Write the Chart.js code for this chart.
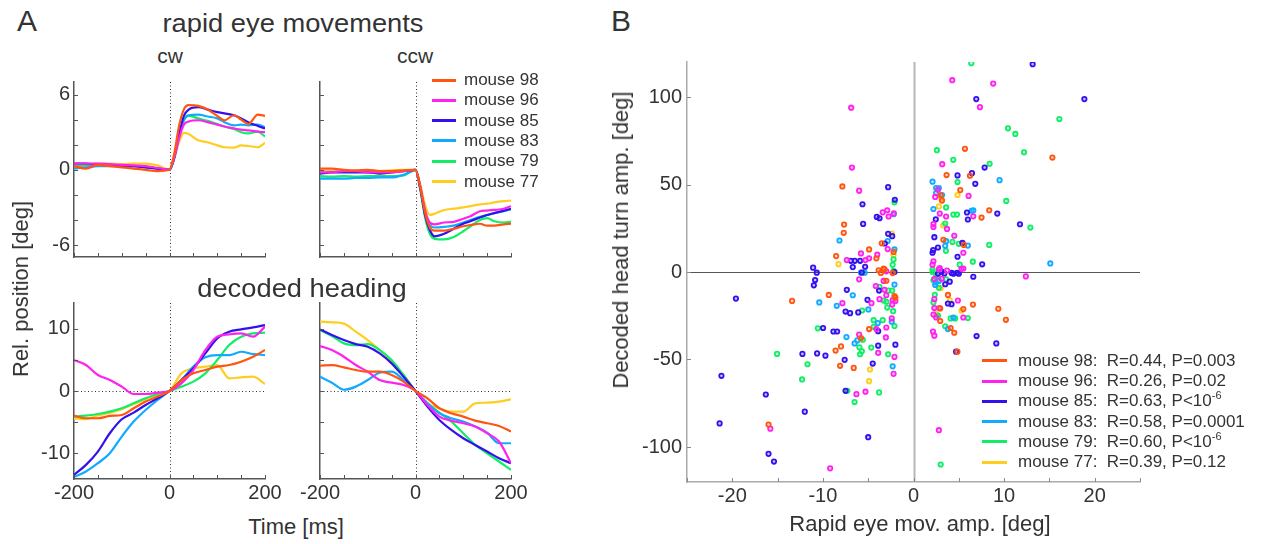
<!DOCTYPE html>
<html>
<head>
<meta charset="utf-8">
<title>rapid eye movements / decoded heading</title>
<script src="https://cdn.jsdelivr.net/npm/chart.js@4.4.1/dist/chart.umd.min.js"></script>
<style>
  html, body { margin: 0; padding: 0; background: #fff; }
  body { position: relative; width: 1271px; height: 544px; overflow: hidden;
         font-family: "Liberation Sans", Arial, sans-serif; color: #333; }
  canvas { position: absolute; }
  .txt { position: absolute; white-space: pre; line-height: 1; }
  .ctr { transform: translateX(-50%); }
  .rot { transform: translate(-50%, -50%) rotate(-90deg); }
  .key { position: absolute; height: 3px; }
  sup { font-size: 11px; vertical-align: 7px; line-height: 0; }
</style>
</head>
<body>
<canvas id="cw"></canvas>
<canvas id="ccw"></canvas>
<canvas id="hcw"></canvas>
<canvas id="hccw"></canvas>
<canvas id="scat"></canvas>

<div class="txt" style="left:17px;top:6px;font-size:30px">A</div>
<div class="txt" style="left:611px;top:6px;font-size:30px">B</div>
<div class="txt" style="left:293px;top:9.5px;font-size:26px;transform:translateX(-50%) scaleX(1.05)">rapid eye movements</div>
<div class="txt ctr" style="left:170px;top:44.5px;font-size:21px">cw</div>
<div class="txt ctr" style="left:415px;top:44.5px;font-size:21px">ccw</div>
<div class="txt" style="left:302px;top:274.5px;font-size:26px;transform:translateX(-50%) scaleX(1.05)">decoded heading</div>
<div class="txt rot" style="left:21px;top:289px;font-size:22px">Rel. position [deg]</div>
<div class="txt ctr" style="left:296px;top:515.5px;font-size:22px">Time [ms]</div>
<div class="txt rot" style="left:621px;top:240px;font-size:22px">Decoded head turn amp. [deg]</div>
<div class="txt ctr" style="left:920px;top:512.5px;font-size:22px">Rapid eye mov. amp. [deg]</div>
<div id="legA"></div>
<div id="legB"></div>

<script>
// ---- data ----
const mice = ['mouse 98', 'mouse 96', 'mouse 85', 'mouse 83', 'mouse 79', 'mouse 77'];
const colors = ['#ff5511', '#ff22ee', '#3311ee', '#11aaff', '#11ee66', '#ffcc22'];

// rapid eye movements (deg), time in ms
const timeTop = [-200,-175,-150,-125,-100,-75,-50,-25,0,10,20,30,40,60,80,100,115,135,150,165,185,200];
const cw98 = [0.3,0.1,0.4,0.3,0.2,0.1,0.0,-0.1,0,1.3,3.5,4.8,5.15,5.1,4.8,4.3,3.95,4.35,4.0,3.65,4.4,4.3];
const cw96 = [0.5,0.5,0.5,0.45,0.4,0.35,0.3,0.15,0,1.0,2.5,3.6,3.85,3.95,3.8,3.6,3.45,3.3,3.2,3.15,3.05,3.0];
const cw85 = [0.5,0.5,0.4,0.4,0.3,0.3,0.2,0.1,0,1.0,2.8,4.3,4.8,5.0,4.8,4.6,4.5,4.35,4.1,3.8,3.5,3.3];
const cw83 = [0.1,0.2,0.3,0.3,0.3,0.3,0.2,0.1,0,1.0,2.8,4.0,4.35,4.4,4.25,4.1,3.8,3.55,3.6,3.55,3.6,3.4];
const cw79 = [0.3,0.35,0.35,0.35,0.3,0.3,0.25,0.1,0,0.9,2.6,3.9,4.3,4.1,3.9,3.65,3.45,3.25,3.0,2.9,3.05,2.65];
const cw77 = [0.5,0.45,0.5,0.5,0.45,0.5,0.5,0.35,0,0.9,2.2,2.95,2.85,2.35,2.2,1.95,1.8,1.77,1.95,1.9,1.8,2.15];

const ccw98 = [0.1,0.1,0.0,-0.05,0.0,-0.1,-0.1,-0.05,0,-1.4,-3.4,-4.6,-4.85,-4.85,-4.7,-4.5,-4.4,-4.3,-4.45,-4.45,-4.35,-4.3];
const ccw96 = [-0.2,-0.2,-0.1,-0.1,-0.2,-0.2,-0.2,-0.1,0,-1.3,-3.2,-4.2,-4.35,-4.2,-4.15,-3.9,-3.7,-3.3,-3.25,-3.2,-3.1,-2.9];
const ccw85 = [-0.3,-0.2,-0.2,-0.2,-0.2,-0.3,-0.2,-0.1,0,-1.5,-3.6,-4.8,-5.3,-5.1,-4.7,-4.3,-4.1,-3.8,-3.6,-3.45,-3.25,-3.1];
const ccw83 = [-0.7,-0.7,-0.7,-0.65,-0.65,-0.6,-0.6,-0.4,0,-1.4,-3.4,-4.4,-4.6,-4.55,-4.45,-4.2,-4.0,-3.75,-3.6,-3.45,-3.3,-3.15];
const ccw79 = [-0.5,-0.55,-0.5,-0.55,-0.5,-0.5,-0.5,-0.45,0,-1.6,-3.8,-5.1,-5.5,-5.55,-5.35,-4.9,-4.5,-4.0,-3.85,-4.1,-4.2,-4.15];
const ccw77 = [-0.1,-0.1,-0.1,-0.1,-0.1,-0.1,-0.05,0.0,0,-1.2,-2.8,-3.6,-3.5,-3.2,-3.1,-3.0,-2.9,-2.75,-2.7,-2.6,-2.5,-2.45];

// decoded heading (deg)
const timeBottom = [-200,-175,-150,-125,-100,-75,-50,-25,0,25,50,75,100,125,150,175,200];
const hcw98 = [-3.95,-4.37,-4.37,-4.0,-3.84,-2.77,-1.7,-0.9,0,1.76,2.83,3.36,3.9,4.16,4.69,5.49,6.56];
const hcw96 = [4.96,4.16,2.56,1.76,0.7,-0.48,-0.48,-0.27,0,1.23,3.36,6.56,8.7,9.07,9.23,8.7,10.3];
const hcw85 = [-13.44,-11.84,-9.7,-6.77,-4.53,-3.47,-2.24,-1.17,0,1.76,3.63,6.03,8.43,9.49,9.87,10.19,10.56];
const hcw83 = [-13.8,-12.9,-11.57,-9.97,-7.3,-4.9,-3.04,-1.44,0,1.76,3.9,5.39,5.76,5.76,6.29,5.92,5.76];
const hcw79 = [-4.1,-3.95,-3.68,-3.3,-2.77,-1.97,-1.17,-0.48,0,0.7,1.5,2.83,4.96,7.36,8.7,9.23,9.33];
const hcw77 = [-4.37,-4.53,-3.9,-3.5,-2.9,-2.1,-1.3,-0.6,0,2.83,3.63,3.9,4.16,2.03,2.19,2.29,1.12];

const hccw98 = [4.05,4.16,3.79,3.36,3.09,3.09,2.56,1.5,0,-1.17,-2.77,-3.57,-4.1,-4.75,-5.17,-5.6,-6.5];
const hccw96 = [7.2,6.56,5.49,4.16,3.09,1.76,1.33,0.96,0,-2.24,-4.1,-4.75,-5.17,-5.7,-6.77,-8.1,-11.57];
const hccw85 = [9.87,8.96,8.16,7.52,7.09,6.03,4.43,2.29,0,-2.5,-4.64,-6.24,-7.57,-8.64,-9.7,-10.77,-11.57];
const hccw83 = [2.29,1.33,0.2,0.7,1.76,2.93,3.09,1.76,0,-1.97,-3.57,-4.37,-4.9,-5.7,-6.67,-8.37,-8.37];
const hccw79 = [9.76,8.8,7.63,7.36,7.52,6.56,4.96,2.56,0,-1.97,-3.47,-4.9,-6.77,-8.64,-9.97,-11.3,-12.64];
const hccw77 = [11.1,11.0,10.8,9.5,8.16,6.56,4.7,2.56,0,-1.97,-2.77,-3.3,-3.3,-1.97,-1.87,-1.7,-1.33];

// panel B: [eye movement amp, decoded head turn amp]
const pts98 = [[-7.85,48.9],[-7.66,27.1],[-7.7,22.4],[-3.5,16.4],[-4.9,12.9],[-8.54,9.1],[-4.1,7.8],[-3.85,1.0],[-3.3,1.9],[-3.6,-0.5],[-2.3,-0.6],[-2.2,11.5],
  [5.68,70.4],[15.33,65.4],[3.65,55.4],[6.23,55.0],[5.16,46.8],[3.0,43.8],[3.15,40.8],[8.36,35.3],[7.51,31.1],[3.3,18.4],[5.56,15.5],
  [-13.4,-16.5],[-9.35,-13.1],[-3.2,1.5],[-3.0,-5.0],[-2.1,-13.7],[-2.0,-14.6],[-4.9,-32.6],[-5.8,-37.7],[-8.0,-42.5],[-8.6,-44.9],[-8.1,-53.6],[-6.6,-54.8],[-16.0,-87.2],
  [3.8,-13.1],[6.56,-18.6],[2.95,-20.8],[5.5,-21.2],[9.36,-21.0],[10.2,-27.3],[2.95,-28.0],[4.1,-32.0],[4.5,-34.7],[4.85,-45.5]];
const pts96 = [[-6.88,93.9],[-6.8,59.7],[-6.0,46.5],[-3.4,34.1],[-2.9,35.3],[-2.75,31.7],[-2.17,33.5],[-2.85,13.1],[-7.36,6.8],[-5.8,10.6],[-5.3,6.8],[-4.9,7.8],[-4.0,9.9],[-3.0,0.4],
  [4.28,109.6],[8.8,107.7],[7.33,94.2],[3.17,61.6],[2.7,47.0],[6.08,43.5],[2.4,42.9],[2.9,33.4],[3.6,31.7],[6.6,31.8],[2.2,27.4],[2.2,25.7],[3.7,24.6],[4.5,20.7],[5.5,11.0],[2.2,6.1],[2.1,4.2],[2.9,2.2],[3.7,0.8],[5.3,1.8],[12.4,-2.5],
  [-6.0,-4.2],[-3.3,-5.1],[-7.85,-17.8],[-4.64,-17.8],[-4.16,-8.0],[-3.2,-10.2],[-3.0,-13.3],[-3.75,-15.5],[-2.3,-16.1],[-2.0,-16.5],[-2.35,-18.6],[-2.4,-26.5],[-4.1,-32.6],[-3.0,-31.7],[-6.0,-35.8],[-3.05,-37.4],[-3.9,-46.2],[-2.1,-48.5],[-2.2,-58.2],[-6.3,-69.8],[-5.3,-68.4],[-15.8,-89.5],[-9.2,-112.2],
  [2.3,-3.9],[2.8,1.5],[3.1,-3.9],[5.5,2.0],[2.3,-15.5],[4.9,-16.3],[2.3,-20.6],[2.85,-20.6],[2.2,-24.3],[2.5,-26.0],[5.5,-26.0],[2.15,-34.0],[2.3,-36.4],[2.8,-90.4]];
const pts85 = [[-2.8,48.5],[-5.63,38.7],[-2.06,41.3],[-4.05,31.5],[-3.75,30.7],[-5.56,27.5],[-2.8,21.8],[-2.35,20.5],[-3.16,16.3],[-6.92,6.4],[-6.48,6.4],[-5.89,6.4],[-6.7,2.8],[-5.34,3.0],[-11.08,2.5],[-10.68,-0.4],[-5.7,-0.3],[-2.1,0],
  [6.93,98.8],[13.15,118.7],[18.86,98.8],[7.85,59.7],[4.86,55.2],[6.45,56.5],[6.82,50.4],[5.9,34.0],[6.0,30.0],[9.25,33.4],[11.75,27.3],[2.46,30.1],[2.3,19.9],[5.4,16.6],[2.7,14.0],[2.17,12.5],[2.1,11.0],[4.86,8.7],[7.58,4.4],[3.1,0.2],[4.2,-0.5],[4.8,-0.5],
  [-10.86,-4.6],[-11.0,-7.6],[-19.6,-15.2],[-7.36,-10.2],[-5.08,-15.9],[-7.5,-22.6],[-7.0,-23.5],[-6.1,-23.1],[-3.8,-10.6],[-3.9,-33.8],[-9.98,-32.0],[-8.84,-34.0],[-8.43,-34.0],[-2.0,-41.5],[-3.9,-42.1],[-4.5,-52.3],[-7.6,-50.2],[-12.26,-46.8],[-10.64,-46.5],[-9.72,-47.8],[-21.2,-59.3],[-16.3,-70.0],[-7.5,-67.9],[-12.0,-79.8],[-21.4,-86.5],[-5.0,-94.4],[-16.0,-103.9],[-15.4,-108.3],
  [2.7,-1.0],[3.4,-0.8],[4.4,-1.0],[5.0,-1.0],[6.6,-2.7],[3.5,-7.0],[4.0,-5.5],[3.8,-18.0],[4.2,-18.4],[6.96,-36.6],[9.14,-40.8],[4.7,-45.5]];
const pts83 = [[-8.17,18.0],[-2.85,17.7],[-2.1,12.9],[-2.2,33.0],[-5.4,-0.4],
  [2.1,51.6],[9.5,52.5],[2.5,48.0],[2.8,48.0],[2.5,45.1],[3.15,44.0],[2.2,36.0],[6.4,35.0],[6.6,35.2],[3.6,17.6],[6.0,15.1],[3.5,15.0],[15.1,4.9],
  [-10.4,-17.4],[-6.7,-13.3],[-8.47,-19.3],[-4.98,-21.4],[-2.1,-7.2],[-3.94,-29.2],[-2.4,-28.4],[-7.4,-37.2],[-6.2,-39.1],[-6.5,-40.8],[-2.3,-53.9],[-5.8,-0.4],
  [2.8,-5.0],[2.45,-6.0],[2.4,-7.4],[4.4,-26.0],[3.8,-32.6]];
const pts79 = [[-2.1,39.8],[-2.2,7.2],[-2.3,4.1],[-2.2,0.6],
  [6.38,119.3],[16.1,87.4],[10.43,82.1],[11.24,78.9],[2.58,69.6],[12.2,68.4],[4.39,64.1],[8.4,61.8],[4.86,51.4],[10.24,40.6],[3.6,36.9],[4.4,32.8],[4.8,32.8],[12.9,25.4],[3.5,27.7],[4.3,17.2],[5.0,16.1],[8.36,15.5],[3.58,12.1],[6.55,5.9],[2.1,1.4],[5.1,4.2],
  [-5.67,-22.0],[-3.75,-8.5],[-2.8,-10.6],[-2.35,-10.6],[-3.3,-16.3],[-3.0,-17.0],[-2.9,-20.3],[-2.25,-22.4],[-4.4,-27.5],[-3.4,-27.5],[-4.4,-31.3],[-2.1,-30.9],[-10.56,-32.2],[-5.6,-38.7],[-4.66,-43.2],[-5.97,-43.0],[-5.7,-45.3],[-5.9,-47.0],[-2.8,-47.0],[-15.06,-46.8],[-11.7,-52.7],[-12.3,-61.4],[-7.3,-67.9],[-3.8,-68.8],[-6.5,-74.3],
  [2.1,0],[2.5,-2.0],[2.2,-4.7],[2.8,-5.1],[3.6,-4.2],[2.8,-9.0],[2.35,-13.0],[2.2,-17.4],[2.7,-25.0],[4.1,-26.5],[4.6,-26.5],[6.0,-26.3],[3.5,-31.0],[3.0,-110.0]];
const pts77 = [[-2.2,9.7],[-8.28,4.5],[4.86,44.0],[3.06,41.9],[2.8,37.5],[3.28,26.6],[-4.8,-55.7],[-4.9,-62.4],[3.0,-9.3],[4.0,-16.0],[5.3,-22.0],[-2.4,22.0],[2.5,-24.0]];

const rVals = ['0.44', '0.26', '0.63', '0.58', '0.60', '0.39'];
const pVals = ['=0.003', '=0.02', '<10^-6', '=0.0001', '<10^-6', '=0.12'];

// ---- helpers ----
Chart.defaults.font.family = "'Liberation Sans', Arial, sans-serif";
Chart.defaults.color = '#333';
Chart.defaults.animation = false;

// tick marks pointing into the plot
const inTicks = {
  id: 'inTicks',
  afterDraw(chart, args, o) {
    const {ctx, chartArea: a, scales: {x, y}} = chart;
    ctx.save();
    ctx.strokeStyle = o.color;
    ctx.lineWidth = 1;
    x.ticks.forEach(t => {
      const px = Math.round(x.getPixelForValue(t.value)) + 0.5;
      ctx.beginPath(); ctx.moveTo(px, a.bottom); ctx.lineTo(px, a.bottom - o.len); ctx.stroke();
    });
    y.ticks.forEach(t => {
      const py = Math.round(y.getPixelForValue(t.value)) + 0.5;
      ctx.beginPath(); ctx.moveTo(a.left, py); ctx.lineTo(a.left + o.len, py); ctx.stroke();
    });
    ctx.restore();
  }
};

// reference lines at zero
const zeroLines = {
  id: 'zeroLines',
  beforeDatasetsDraw(chart, args, o) {
    const {ctx, chartArea: a, scales: {x, y}} = chart;
    ctx.save();
    if (o.v) {
      const px = Math.round(x.getPixelForValue(0)) + 0.5;
      ctx.strokeStyle = o.v.color; ctx.lineWidth = o.v.width; ctx.setLineDash(o.v.dash || []);
      ctx.beginPath(); ctx.moveTo(px, a.top); ctx.lineTo(px, a.bottom); ctx.stroke();
    }
    if (o.h) {
      const py = Math.round(y.getPixelForValue(0)) + 0.5;
      ctx.strokeStyle = o.h.color; ctx.lineWidth = o.h.width; ctx.setLineDash(o.h.dash || []);
      ctx.beginPath(); ctx.moveTo(a.left, py); ctx.lineTo(a.right, py); ctx.stroke();
    }
    ctx.restore();
  }
};

function panel(id, rect, pad, config) {
  const cv = document.getElementById(id);
  cv.width = rect.w + pad.l + pad.r;
  cv.height = rect.h + pad.t + pad.b;
  cv.style.left = (rect.x - pad.l) + 'px';
  cv.style.top = (rect.y - pad.t) + 'px';
  cv.style.width = cv.width + 'px';
  cv.style.height = cv.height + 'px';
  const o = config.options;
  o.responsive = false;
  o.maintainAspectRatio = false;
  o.layout = { padding: { left: 0, top: pad.t, right: pad.r, bottom: 0 } };
  const fixX = s => { s.height = pad.b; s.paddingLeft = s.paddingRight = s.paddingTop = s.paddingBottom = 0; };
  const fixY = s => { s.width = pad.l; s.paddingLeft = s.paddingRight = s.paddingTop = s.paddingBottom = 0; };
  o.scales.x.afterFit = fixX;
  o.scales.y.afterFit = fixY;
  return new Chart(cv, config);
}

function axis(min, max, step, shown, pad, border) {
  return {
    type: 'linear', min: min, max: max,
    grid: { display: false, drawTicks: false, tickLength: 0 },
    border: { display: true, color: border, width: 1.5 },
    ticks: {
      stepSize: step, includeBounds: false, autoSkip: false, maxRotation: 0,
      padding: pad, color: '#333', font: { size: 20 },
      callback: v => (shown.includes(v) ? String(v) : '')
    }
  };
}

function linePanel(id, rect, pad, times, series, yMin, yMax, yStep, xShown, yShown, hZero) {
  const datasets = series.map((vals, i) => ({
    label: mice[i],
    data: times.map((t, k) => ({ x: t, y: vals[k] })),
    borderColor: colors[i],
    borderWidth: 2.2,
    pointRadius: 0,
    cubicInterpolationMode: 'monotone',
    fill: false
  }));
  const dot = { color: '#333', width: 1, dash: [1, 2.5] };
  return panel(id, rect, pad, {
    type: 'line',
    data: { datasets },
    options: {
      scales: {
        x: axis(-200, 200, 50, xShown, 2, '#555'),
        y: axis(yMin, yMax, yStep, yShown, 4, '#555')
      },
      plugins: {
        legend: { display: false }, tooltip: { enabled: false },
        inTicks: { len: 4, color: '#555' },
        zeroLines: { v: dot, h: hZero ? dot : null }
      }
    },
    plugins: [inTicks, zeroLines]
  });
}

// ---- panel A ----
linePanel('cw', { x: 74, y: 82, w: 191, h: 175 }, { l: 55, t: 6, r: 12, b: 12 },
  timeTop, [cw98, cw96, cw85, cw83, cw79, cw77], -6.95, 7.0, 2, [], [-6, 0, 6], false);
linePanel('ccw', { x: 320, y: 82, w: 191, h: 175 }, { l: 10, t: 6, r: 12, b: 12 },
  timeTop, [ccw98, ccw96, ccw85, ccw83, ccw79, ccw77], -6.95, 7.0, 2, [], [], false);
linePanel('hcw', { x: 74, y: 303, w: 191, h: 176 }, { l: 55, t: 6, r: 24, b: 32 },
  timeBottom, [hcw98, hcw96, hcw85, hcw83, hcw79, hcw77], -14.1, 14.1, 5, [-200, 0, 200], [-10, 0, 10], true);
linePanel('hccw', { x: 320, y: 303, w: 191, h: 176 }, { l: 30, t: 6, r: 24, b: 32 },
  timeBottom, [hccw98, hccw96, hccw85, hccw83, hccw79, hccw77], -14.1, 14.1, 5, [-200, 0, 200], [], true);

// ---- panel B ----
const scatterSets = [pts98, pts96, pts85, pts83, pts79, pts77].map((pts, i) => ({
  label: mice[i],
  data: pts.map(p => ({ x: p[0], y: p[1] })),
  pointStyle: 'circle',
  pointRadius: 2.2,
  pointBorderWidth: 1.8,
  pointBorderColor: colors[i],
  pointBackgroundColor: colors[i] + '40',
  borderColor: colors[i],
  showLine: false
}));
panel('scat', { x: 687, y: 62, w: 453, h: 420 }, { l: 70, t: 10, r: 20, b: 34 }, {
  type: 'scatter',
  data: { datasets: scatterSets },
  options: {
    scales: {
      x: axis(-25, 25, 5, [-20, -10, 0, 10, 20], 2, '#aaa'),
      y: axis(-120, 120, 50, [-100, -50, 0, 50, 100], 5, '#aaa')
    },
    plugins: {
      legend: { display: false }, tooltip: { enabled: false },
      inTicks: { len: 4, color: '#888' },
      zeroLines: { v: { color: '#b8b8b8', width: 2 }, h: { color: '#555', width: 1 } }
    }
  },
  plugins: [inTicks, zeroLines]
});

// ---- legends ----
function legendRow(host, i, lineX, lineW, textX, yc, html) {
  const k = document.createElement('div');
  k.className = 'key';
  k.style.left = lineX + 'px';
  k.style.width = lineW + 'px';
  k.style.top = (yc - 1.5) + 'px';
  k.style.background = colors[i];
  host.appendChild(k);
  const t = document.createElement('div');
  t.className = 'txt';
  t.style.left = textX + 'px';
  t.style.top = (yc - 9) + 'px';
  t.style.fontSize = '17px';
  t.innerHTML = html;
  host.appendChild(t);
}
const legA = document.getElementById('legA');
mice.forEach((m, i) => legendRow(legA, i, 431.5, 24, 464, 80 + i * 20.3, m));
const legB = document.getElementById('legB');
mice.forEach((m, i) => {
  const p = pVals[i].split('^');
  const ptxt = 'P' + p[0] + (p[1] ? '<sup>' + p[1] + '</sup>' : '');
  legendRow(legB, i, 982, 25, 1018, 360.7 + i * 20.3, m + ':  R=' + rVals[i] + ', ' + ptxt);
});
</script>
</body>
</html>
